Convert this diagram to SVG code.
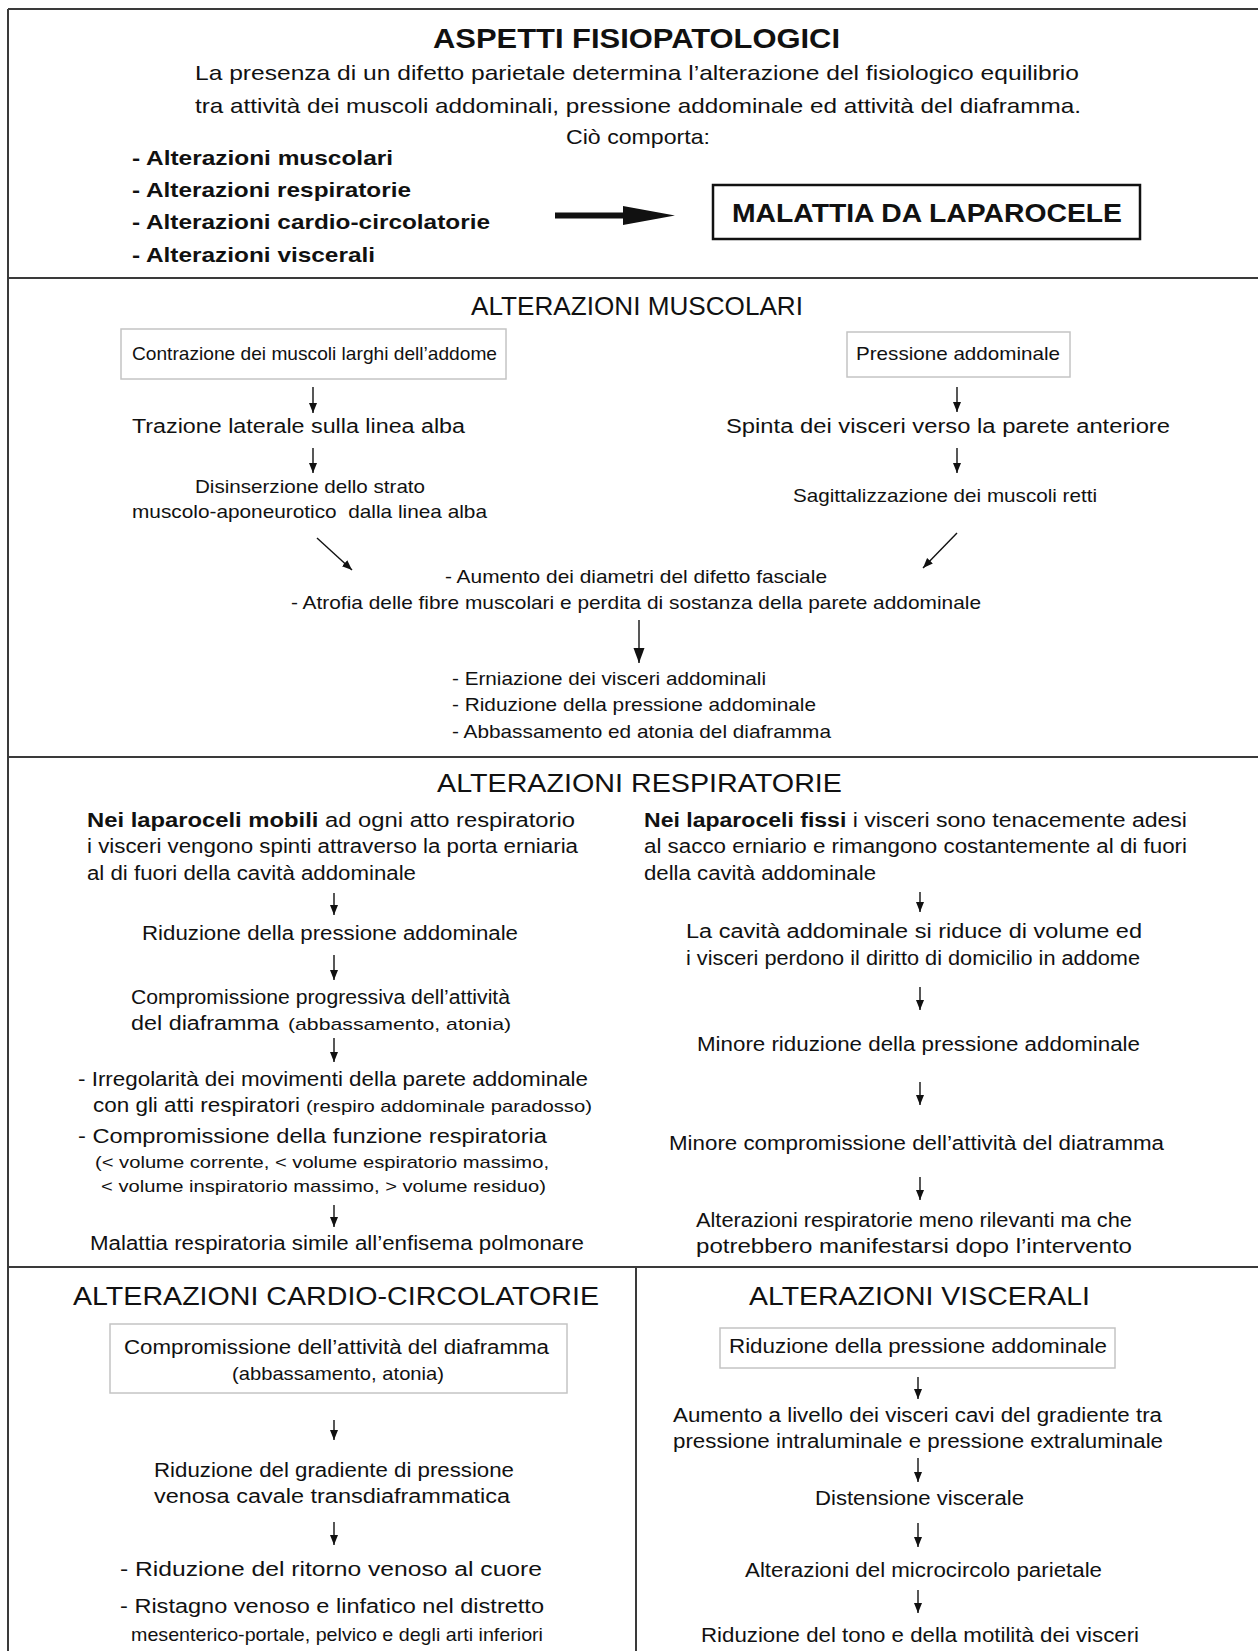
<svg xmlns="http://www.w3.org/2000/svg" width="1258" height="1651" viewBox="0 0 1258 1651">
<style>
text{font-family:"Liberation Sans",Arial,Helvetica,sans-serif;fill:#111}
.b{font-weight:bold}
.h{font-size:25px}
.s20{font-size:20px}
.s19{font-size:19px}
.s17{font-size:17px}
.frame{stroke:#3a3a3a;stroke-width:2;fill:none}
.box{fill:#fff;stroke:#c4c4c4;stroke-width:1.5}
.ar{stroke:#111;stroke-width:1.4;fill:none}
</style>
<defs>
<marker id="ah" viewBox="0 0 10 12" refX="10" refY="6" markerWidth="10" markerHeight="12" markerUnits="userSpaceOnUse" orient="auto">
<path d="M0,2 L10,6 L0,10 z" fill="#111"/>
</marker>
<marker id="ahb" viewBox="0 0 15 12" refX="15" refY="6" markerWidth="15" markerHeight="12" markerUnits="userSpaceOnUse" orient="auto">
<path d="M0,0.5 L15,6 L0,11.5 z" fill="#111"/>
</marker>
</defs>
<rect width="1258" height="1651" fill="#fff"/>
<g id="frame">
<path class="frame" d="M8,9 H1262 M8,9 V1651 M8,278 H1262 M8,757 H1262 M8,1267 H1262 M636,1267 V1651"/>
</g>

<g id="header">
<text class="b" x="433" y="48" font-size="28" textLength="407" lengthAdjust="spacingAndGlyphs">ASPETTI FISIOPATOLOGICI</text>
<text x="195" y="80" font-size="21" textLength="884" lengthAdjust="spacingAndGlyphs">La presenza di un difetto parietale determina l’alterazione del fisiologico equilibrio</text>
<text x="195" y="113" font-size="21" textLength="886" lengthAdjust="spacingAndGlyphs">tra attività dei muscoli addominali, pressione addominale ed attività del diaframma.</text>
<text x="566" y="144" font-size="21" textLength="144" lengthAdjust="spacingAndGlyphs">Ciò comporta:</text>
</g>
<g id="bullets">
<text class="b" font-size="21" x="132" y="165" textLength="261" lengthAdjust="spacingAndGlyphs">- Alterazioni muscolari</text>
<text class="b" font-size="21" x="132" y="197" textLength="279" lengthAdjust="spacingAndGlyphs">- Alterazioni respiratorie</text>
<text class="b" font-size="21" x="132" y="229" textLength="358" lengthAdjust="spacingAndGlyphs">- Alterazioni cardio-circolatorie</text>
<text class="b" font-size="21" x="132" y="262" textLength="243" lengthAdjust="spacingAndGlyphs">- Alterazioni viscerali</text>
</g>
<g id="malattia">
<rect x="713" y="185" width="427" height="54" fill="#fff" stroke="#111" stroke-width="2.5"/>
<text class="b" x="732" y="222" font-size="25" textLength="390" lengthAdjust="spacingAndGlyphs">MALATTIA DA LAPAROCELE</text>
</g>

<g id="sec-muscolari">
<text class="h" x="471" y="315" textLength="332" lengthAdjust="spacingAndGlyphs">ALTERAZIONI MUSCOLARI</text>
<g id="m-box1">
<rect class="box" x="121" y="329" width="385" height="50"/>
<text class="s19" x="132" y="360" textLength="365" lengthAdjust="spacingAndGlyphs">Contrazione dei muscoli larghi dell’addome</text>
</g>
<g id="m-box2">
<rect class="box" x="847" y="332" width="223" height="45"/>
<text class="s19" x="856" y="360" textLength="204" lengthAdjust="spacingAndGlyphs">Pressione addominale</text>
</g>
<text id="m-trazione" class="s20" x="132" y="433" textLength="333" lengthAdjust="spacingAndGlyphs">Trazione laterale sulla linea alba</text>
<text id="m-spinta" class="s20" x="726" y="433" textLength="444" lengthAdjust="spacingAndGlyphs">Spinta dei visceri verso la parete anteriore</text>
<g id="m-disinserzione">
<text class="s19" x="195" y="493" textLength="230" lengthAdjust="spacingAndGlyphs">Disinserzione dello strato</text>
<text class="s19" x="132" y="518" textLength="355" lengthAdjust="spacingAndGlyphs" xml:space="preserve">muscolo-aponeurotico  dalla linea alba</text>
</g>
<text id="m-sagitt" class="s19" x="793" y="502" textLength="304" lengthAdjust="spacingAndGlyphs">Sagittalizzazione dei muscoli retti</text>
<g id="m-aumento">
<text class="s19" x="445" y="583" textLength="382" lengthAdjust="spacingAndGlyphs">- Aumento dei diametri del difetto fasciale</text>
<text class="s19" x="291" y="609" textLength="690" lengthAdjust="spacingAndGlyphs">- Atrofia delle fibre muscolari e perdita di sostanza della parete addominale</text>
</g>
<g id="m-erniazione">
<text class="s19" x="452" y="685" textLength="314" lengthAdjust="spacingAndGlyphs">- Erniazione dei visceri addominali</text>
<text class="s19" x="452" y="711" textLength="364" lengthAdjust="spacingAndGlyphs">- Riduzione della pressione addominale</text>
<text class="s19" x="452" y="738" textLength="379" lengthAdjust="spacingAndGlyphs">- Abbassamento ed atonia del diaframma</text>
</g>
</g>

<g id="sec-respiratorie">
<text class="h" x="437" y="792" textLength="405" lengthAdjust="spacingAndGlyphs">ALTERAZIONI RESPIRATORIE</text>
<g id="r-mobili">
<text class="s20" x="87" y="827" textLength="488" lengthAdjust="spacingAndGlyphs"><tspan class="b">Nei laparoceli mobili</tspan> ad ogni atto respiratorio</text>
<text class="s20" x="87" y="853" textLength="491" lengthAdjust="spacingAndGlyphs">i visceri vengono spinti attraverso la porta erniaria</text>
<text class="s20" x="87" y="880" textLength="329" lengthAdjust="spacingAndGlyphs">al di fuori della cavità addominale</text>
</g>
<text id="r-l1" class="s20" x="142" y="940" textLength="376" lengthAdjust="spacingAndGlyphs">Riduzione della pressione addominale</text>
<g id="r-l2">
<text class="s20" x="131" y="1004" textLength="379" lengthAdjust="spacingAndGlyphs">Compromissione progressiva dell’attività</text>
<text class="s20" x="131" y="1030" textLength="148" lengthAdjust="spacingAndGlyphs">del diaframma</text>
<text class="s17" x="288" y="1030" textLength="223" lengthAdjust="spacingAndGlyphs">(abbassamento, atonia)</text>
</g>
<g id="r-l3">
<text class="s20" x="78" y="1086" textLength="510" lengthAdjust="spacingAndGlyphs">- Irregolarità dei movimenti della parete addominale</text>
<text class="s20" x="93" y="1112" textLength="207" lengthAdjust="spacingAndGlyphs">con gli atti respiratori</text>
<text class="s17" x="306" y="1112" textLength="286" lengthAdjust="spacingAndGlyphs">(respiro addominale paradosso)</text>
<text class="s20" x="78" y="1143" textLength="469" lengthAdjust="spacingAndGlyphs">- Compromissione della funzione respiratoria</text>
<text class="s17" x="95" y="1168" textLength="454" lengthAdjust="spacingAndGlyphs">(&lt; volume corrente, &lt; volume espiratorio massimo,</text>
<text class="s17" x="101" y="1192" textLength="445" lengthAdjust="spacingAndGlyphs">&lt; volume inspiratorio massimo, &gt; volume residuo)</text>
</g>
<text id="r-l4" class="s20" x="90" y="1250" textLength="494" lengthAdjust="spacingAndGlyphs">Malattia respiratoria simile all’enfisema polmonare</text>

<g id="r-fissi">
<text class="s20" x="644" y="827" textLength="543" lengthAdjust="spacingAndGlyphs"><tspan class="b">Nei laparoceli fissi</tspan> i visceri sono tenacemente adesi</text>
<text class="s20" x="644" y="853" textLength="543" lengthAdjust="spacingAndGlyphs">al sacco erniario e rimangono costantemente al di fuori</text>
<text class="s20" x="644" y="880" textLength="232" lengthAdjust="spacingAndGlyphs">della cavità addominale</text>
</g>
<g id="r-r1">
<text class="s20" x="686" y="938" textLength="456" lengthAdjust="spacingAndGlyphs">La cavità addominale si riduce di volume ed</text>
<text class="s20" x="686" y="965" textLength="454" lengthAdjust="spacingAndGlyphs">i visceri perdono il diritto di domicilio in addome</text>
</g>
<text id="r-r2" class="s20" x="697" y="1051" textLength="443" lengthAdjust="spacingAndGlyphs">Minore riduzione della pressione addominale</text>
<text id="r-r3" class="s20" x="669" y="1150" textLength="495" lengthAdjust="spacingAndGlyphs">Minore compromissione dell’attività del diatramma</text>
<g id="r-r4">
<text class="s20" x="696" y="1227" textLength="436" lengthAdjust="spacingAndGlyphs">Alterazioni respiratorie meno rilevanti ma che</text>
<text class="s20" x="696" y="1253" textLength="436" lengthAdjust="spacingAndGlyphs">potrebbero manifestarsi dopo l’intervento</text>
</g>
</g>

<g id="sec-cardio">
<text class="h" x="73" y="1305" textLength="526" lengthAdjust="spacingAndGlyphs">ALTERAZIONI CARDIO-CIRCOLATORIE</text>
<g id="c-box">
<rect class="box" x="110" y="1324" width="457" height="69"/>
<text class="s20" x="124" y="1354" textLength="425" lengthAdjust="spacingAndGlyphs">Compromissione dell’attività del diaframma</text>
<text class="s19" x="232" y="1380" textLength="212" lengthAdjust="spacingAndGlyphs">(abbassamento, atonia)</text>
</g>
<g id="c-l1">
<text class="s20" x="154" y="1477" textLength="360" lengthAdjust="spacingAndGlyphs">Riduzione del gradiente di pressione</text>
<text class="s20" x="154" y="1503" textLength="356" lengthAdjust="spacingAndGlyphs">venosa cavale transdiaframmatica</text>
</g>
<g id="c-l2">
<text class="s20" x="120" y="1576" textLength="422" lengthAdjust="spacingAndGlyphs">- Riduzione del ritorno venoso al cuore</text>
<text class="s20" x="120" y="1613" textLength="424" lengthAdjust="spacingAndGlyphs">- Ristagno venoso e linfatico nel distretto</text>
<text class="s19" x="131" y="1641" textLength="412" lengthAdjust="spacingAndGlyphs">mesenterico-portale, pelvico e degli arti inferiori</text>
</g>
</g>

<g id="sec-viscerali">
<text class="h" x="749" y="1305" textLength="341" lengthAdjust="spacingAndGlyphs">ALTERAZIONI VISCERALI</text>
<g id="v-box">
<rect class="box" x="720" y="1328" width="395" height="40"/>
<text class="s20" x="729" y="1353" textLength="378" lengthAdjust="spacingAndGlyphs">Riduzione della pressione addominale</text>
</g>
<g id="v-l1">
<text class="s20" x="673" y="1422" textLength="489" lengthAdjust="spacingAndGlyphs">Aumento a livello dei visceri cavi del gradiente tra</text>
<text class="s20" x="673" y="1448" textLength="490" lengthAdjust="spacingAndGlyphs">pressione intraluminale e pressione extraluminale</text>
</g>
<text id="v-l2" class="s20" x="815" y="1505" textLength="209" lengthAdjust="spacingAndGlyphs">Distensione viscerale</text>
<text id="v-l3" class="s20" x="745" y="1577" textLength="357" lengthAdjust="spacingAndGlyphs">Alterazioni del microcircolo parietale</text>
<text id="v-l4" class="s20" x="701" y="1642" textLength="438" lengthAdjust="spacingAndGlyphs">Riduzione del tono e della motilità dei visceri</text>
</g>

<g id="connectors">
<polygon points="555,212.5 623,212.5 623,206 675,215.5 623,225 623,218.5 555,218.5" fill="#111"/>
<line class="ar" x1="313" y1="387" x2="313" y2="413" marker-end="url(#ah)"/>
<line class="ar" x1="957" y1="387" x2="957" y2="412" marker-end="url(#ah)"/>
<line class="ar" x1="313" y1="448" x2="313" y2="473" marker-end="url(#ah)"/>
<line class="ar" x1="957" y1="448" x2="957" y2="473" marker-end="url(#ah)"/>
<line class="ar" x1="317" y1="538" x2="352" y2="570" stroke-width="2" marker-end="url(#ah)"/>
<line class="ar" x1="957" y1="533" x2="923" y2="568" stroke-width="2" marker-end="url(#ah)"/>
<line class="ar" x1="639" y1="620" x2="639" y2="663" stroke-width="3" marker-end="url(#ahb)"/>
<line class="ar" x1="334" y1="893" x2="334" y2="915" marker-end="url(#ah)"/>
<line class="ar" x1="334" y1="955" x2="334" y2="980" marker-end="url(#ah)"/>
<line class="ar" x1="334" y1="1038" x2="334" y2="1062" marker-end="url(#ah)"/>
<line class="ar" x1="334" y1="1205" x2="334" y2="1227" marker-end="url(#ah)"/>
<line class="ar" x1="920" y1="892" x2="920" y2="912" marker-end="url(#ah)"/>
<line class="ar" x1="920" y1="987" x2="920" y2="1010" marker-end="url(#ah)"/>
<line class="ar" x1="920" y1="1082" x2="920" y2="1105" marker-end="url(#ah)"/>
<line class="ar" x1="920" y1="1177" x2="920" y2="1200" marker-end="url(#ah)"/>
<line class="ar" x1="334" y1="1420" x2="334" y2="1440" marker-end="url(#ah)"/>
<line class="ar" x1="334" y1="1522" x2="334" y2="1545" marker-end="url(#ah)"/>
<line class="ar" x1="918" y1="1377" x2="918" y2="1399" marker-end="url(#ah)"/>
<line class="ar" x1="918" y1="1458" x2="918" y2="1482" marker-end="url(#ah)"/>
<line class="ar" x1="918" y1="1523" x2="918" y2="1547" marker-end="url(#ah)"/>
<line class="ar" x1="918" y1="1590" x2="918" y2="1613" marker-end="url(#ah)"/>
</g>
</svg>
